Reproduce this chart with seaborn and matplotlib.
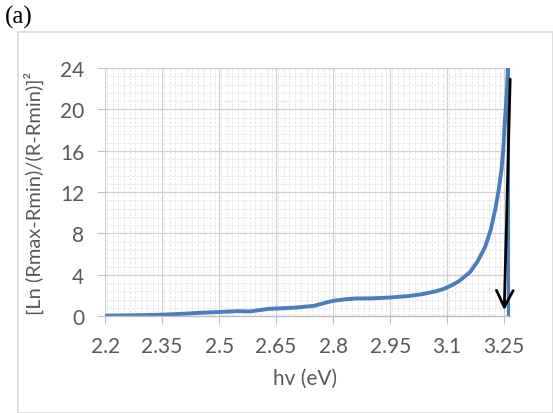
import numpy as np
import pandas as pd
import seaborn as sns
import matplotlib.pyplot as plt
from matplotlib.patches import Rectangle
from matplotlib.ticker import MultipleLocator

# photon energy (eV) and transformed reflectance
hv = [2.20, 2.25, 2.30, 2.35, 2.40, 2.45, 2.50, 2.55, 2.58, 2.60, 2.63, 2.66,
      2.70, 2.75, 2.78, 2.80, 2.83, 2.86, 2.90, 2.95, 3.00, 3.035, 3.07,
      3.09, 3.11, 3.13, 3.16, 3.18, 3.20, 3.215, 3.227, 3.236, 3.243, 3.248,
      3.251, 3.254, 3.257, 3.2595, 3.262, 3.2625]
signal = [0.05, 0.07, 0.10, 0.14, 0.22, 0.32, 0.40, 0.48, 0.45, 0.55, 0.70, 0.75,
          0.82, 1.00, 1.30, 1.48, 1.62, 1.71, 1.72, 1.80, 1.95, 2.13, 2.40,
          2.62, 2.95, 3.35, 4.25, 5.30, 6.70, 8.40, 10.4, 12.3, 14.2, 16.3,
          18.4, 20.0, 21.7, 23.5, 30.0, 0.0]

df = pd.DataFrame({"hv": hv, "signal": signal})

plt.rcParams["font.family"] = ["Lato", "DejaVu Sans"]

fig = plt.figure(figsize=(5.53, 4.14), dpi=100)
ax = fig.add_axes([0.190, 0.234, 0.732, 0.599])

sns.lineplot(data=df, x="hv", y="signal", ax=ax, color="#4a7ebb",
             linewidth=2.8, sort=False)

ax.set_xlim(2.2, 3.265)
ax.set_ylim(0, 24)
ax.xaxis.set_minor_locator(MultipleLocator(0.015))
ax.yaxis.set_major_locator(MultipleLocator(4))
ax.yaxis.set_minor_locator(MultipleLocator(0.8))
ax.set_xticks([2.2, 2.35, 2.5, 2.65, 2.8, 2.95, 3.1, 3.25])
ax.set_xticklabels(["2.2", "2.35", "2.5", "2.65", "2.8", "2.95", "3.1", "3.25"])

ax.grid(which="major", color="#d0d0d0", linewidth=0.9)
ax.grid(which="minor", color="#e8e8e8", linewidth=0.7, linestyle=(0, (3, 1.5)))
ax.set_axisbelow(True)

for s in ["top", "right", "left"]:
    ax.spines[s].set_visible(False)
ax.spines["bottom"].set_color("#bfbfbf")
ax.spines["bottom"].set_linewidth(1.0)

ax.tick_params(which="major", length=6, color="#bfbfbf", labelcolor="#595959",
               labelsize=15)
ax.tick_params(axis="y", pad=9)
ax.tick_params(axis="x", pad=8)
ax.tick_params(which="minor", length=0)

ax.set_xlabel("hv (eV)", color="#595959", fontsize=15)
ax.set_ylabel("[Ln (Rmax-Rmin)/(R-Rmin)]²", color="#595959", fontsize=14.5)
ax.xaxis.set_label_coords(0.494, -0.21, transform=ax.transAxes)
ax.yaxis.set_label_coords(-0.15, 0.5, transform=ax.transAxes)

# arrow marking the band edge
ax.annotate("", xy=(3.250, 0.3), xytext=(3.266, 23.2),
            arrowprops=dict(arrowstyle="->", color="black", lw=2,
                            mutation_scale=30),
            annotation_clip=False)

fig.patches.append(Rectangle((18 / 553, 0), 1 - 18 / 553, 1 - 33 / 414,
                             transform=fig.transFigure, fill=False,
                             edgecolor="#d9d9d9", linewidth=1.2))
fig.text(5 / 553, 1 - 17 / 414, "(a)", family="Liberation Serif",
         fontsize=18, va="center", ha="left")

plt.savefig("out.png", dpi=100)
